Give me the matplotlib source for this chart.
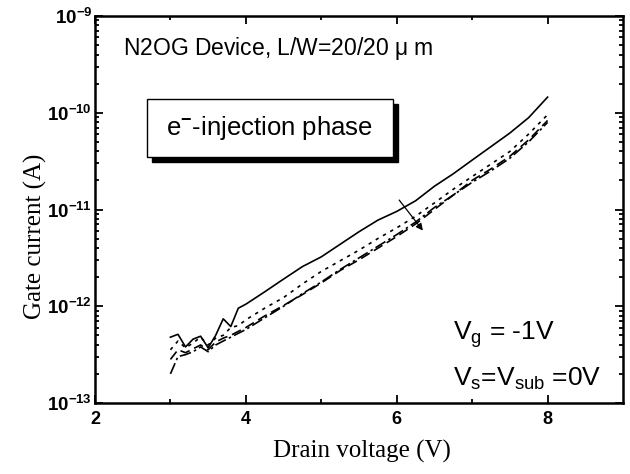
import math

import matplotlib
matplotlib.use("Agg")
import matplotlib.pyplot as plt
from matplotlib.patches import Rectangle
from matplotlib.ticker import FixedLocator, FuncFormatter, LogLocator, NullFormatter

plt.rcParams["mathtext.fontset"] = "custom"
plt.rcParams["mathtext.rm"] = "Liberation Sans"
plt.rcParams["mathtext.bf"] = "Liberation Sans:bold"
plt.rcParams["mathtext.it"] = "Liberation Sans:italic"

# drain voltage (V)
vd = [3.0, 3.1, 3.2, 3.3, 3.4, 3.5, 3.6, 3.7, 3.8, 3.9, 4.0, 4.25, 4.5, 4.75,
      5.0, 5.25, 5.5, 5.75, 6.0, 6.25, 6.5, 6.75, 7.0, 7.25, 7.5, 7.75, 8.0]

# gate current (A), one list per stress step
ig_solid = [4.79e-13, 5.13e-13, 3.80e-13, 4.57e-13, 4.90e-13, 3.72e-13, 5.01e-13,
            7.41e-13, 6.17e-13, 9.55e-13, 1.05e-12, 1.41e-12, 1.91e-12, 2.57e-12,
            3.24e-12, 4.37e-12, 5.89e-12, 7.76e-12, 9.55e-12, 1.23e-11, 1.74e-11,
            2.34e-11, 3.24e-11, 4.47e-11, 6.17e-11, 8.91e-11, 1.45e-10]
ig_dot = [3.55e-13, 4.37e-13, 3.72e-13, 4.17e-13, 4.79e-13, 3.98e-13, 4.68e-13,
          5.01e-13, 6.03e-13, 6.31e-13, 7.24e-13, 9.55e-13, 1.23e-12, 1.70e-12,
          2.29e-12, 2.95e-12, 3.80e-12, 5.01e-12, 6.46e-12, 8.51e-12, 1.17e-11,
          1.62e-11, 2.19e-11, 2.95e-11, 3.98e-11, 6.03e-11, 9.55e-11]
ig_dash = [2.82e-13, 3.55e-13, 3.31e-13, 3.63e-13, 3.98e-13, 3.55e-13, 4.27e-13,
           4.68e-13, 5.01e-13, 5.50e-13, 6.03e-13, 7.94e-13, 1.02e-12, 1.32e-12,
           1.74e-12, 2.34e-12, 3.02e-12, 3.98e-12, 5.25e-12, 7.08e-12, 1.00e-11,
           1.41e-11, 2.00e-11, 2.63e-11, 3.55e-11, 5.25e-11, 8.32e-11]
ig_dashdot = [2.00e-13, 3.02e-13, 3.16e-13, 3.39e-13, 3.80e-13, 3.39e-13, 3.98e-13,
              4.37e-13, 4.79e-13, 5.25e-13, 5.75e-13, 7.59e-13, 1.00e-12, 1.35e-12,
              1.78e-12, 2.40e-12, 3.16e-12, 4.17e-12, 5.50e-12, 7.41e-12, 1.05e-11,
              1.41e-11, 1.91e-11, 2.51e-11, 3.39e-11, 5.01e-11, 7.94e-11]

x_ticks = [2, 4, 6, 8]
y_ticks = [1e-13, 1e-12, 1e-11, 1e-10, 1e-9]

# arrow showing the trend with stress
arrow_start = (6.01, 1.32e-11)
arrow_end = (6.37, 5.75e-12)

fig = plt.figure(figsize=(6.3, 4.74), dpi=100)
ax = fig.add_axes([95 / 630, 1 - 403 / 474, 528 / 630, 387 / 474])

ax.plot(vd, ig_solid, color="black", lw=1.2, ls="-")
ax.plot(vd, ig_dot, color="black", lw=1.2, ls=(0, (2, 3)))
ax.plot(vd, ig_dash, color="black", lw=1.2, ls=(0, (6, 3)))
ax.plot(vd, ig_dashdot, color="black", lw=1.2, ls=(0, (7, 2, 1.5, 2)))

ax.set_yscale("log")
ax.set_xlim(2, 9)
ax.set_ylim(1e-13, 1e-9)

ax.xaxis.set_major_locator(FixedLocator(x_ticks))
ax.xaxis.set_minor_locator(FixedLocator([3, 5, 7]))
ax.yaxis.set_major_locator(FixedLocator(y_ticks))
ax.yaxis.set_minor_locator(LogLocator(base=10, subs=range(2, 10)))
ax.yaxis.set_minor_formatter(NullFormatter())
ax.yaxis.set_major_formatter(FuncFormatter(
    lambda v, p: r"$\mathbf{10^{%d}}$" % round(math.log10(v))))

ax.tick_params(which="both", direction="in", top=True, right=True, width=1.3)
ax.tick_params(which="major", length=6)
ax.tick_params(which="minor", length=3)
ax.tick_params(axis="x", labelsize=13, pad=6)
ax.tick_params(axis="y", labelsize=13.5, pad=2)
for lab in ax.get_xticklabels():
    lab.set_fontfamily("Liberation Sans")
    lab.set_fontweight("bold")
for sp in ax.spines.values():
    sp.set_linewidth(1.8)

ax.set_xlabel("Drain voltage (V)", family="Liberation Serif", fontsize=18)
ax.set_ylabel("Gate current (A)", family="Liberation Serif", fontsize=18)
ax.xaxis.set_label_coords(0.505, -0.095)
ax.yaxis.set_label_coords(-0.09, 0.43)

ax.annotate("", xy=arrow_end, xytext=arrow_start,
            arrowprops=dict(arrowstyle="-|>", color="black", lw=0.9,
                            mutation_scale=10))

ax.text(0.053, 0.915, r"N2OG Device, L/W=20/20 $\mathrm{\mu}$ m",
        transform=ax.transAxes, family="Liberation Sans", fontsize=16.5,
        va="center", ha="left")

# boxed label with drop shadow
ax.add_patch(Rectangle((0.108, 0.623), 0.466, 0.15, transform=ax.transAxes,
                       facecolor="black", edgecolor="black", zorder=4))
ax.add_patch(Rectangle((0.098, 0.636), 0.466, 0.15, transform=ax.transAxes,
                       facecolor="white", edgecolor="black", lw=1.0, zorder=5))
ax.text(0.331, 0.711, r"e$^{\mathbf{-}}$-injection phase", transform=ax.transAxes,
        family="Liberation Sans", fontsize=18.5, va="center", ha="center", zorder=6)

ax.text(0.678, 0.176, r"V$_\mathrm{g}$ = -1V", transform=ax.transAxes,
        family="Liberation Sans", fontsize=19, va="center", ha="left")
ax.text(0.678, 0.062, r"V$_\mathrm{s}$=V$_\mathrm{sub}$ =0V", transform=ax.transAxes,
        family="Liberation Sans", fontsize=19, va="center", ha="left")

fig.savefig("out.png", dpi=100)
